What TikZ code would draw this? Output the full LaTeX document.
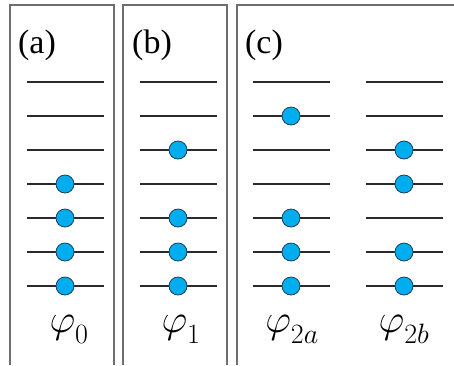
\RequirePackage{fix-cm}
\documentclass[tikz,border=0pt]{standalone}
\usepackage{fontspec}
\setmainfont{Liberation Serif}
\definecolor{frameGray}{HTML}{6E6E6E}
\definecolor{levelInk}{HTML}{2A2A2A}
\definecolor{dotCyan}{HTML}{00AEEF}
\definecolor{dotRim}{HTML}{1F3F55}
\newcommand{\statephi}[1]{$\varphi_{\raisebox{-5pt}{$\scriptstyle #1$}}$}

\begin{document}
\begin{tikzpicture}[
  x=1pt,
  y=-1pt,
  frame/.style={draw=frameGray, line width=1.3pt},
  level/.style={draw=levelInk, line width=1.1pt},
  electron/.style={
    circle,
    draw=dotRim,
    fill=dotCyan,
    line width=.8pt,
    minimum size=18pt,
    inner sep=0pt
  },
  tag/.style={font=\fontsize{34}{36}\selectfont, inner sep=0pt},
  statename/.style={font=\fontsize{40}{44}\selectfont, inner sep=0pt}
]

\path[use as bounding box] (0,0) rectangle (454,365);

% panel frames
\draw[frame] (10,365) |- (114,5) -- (114,365);
\draw[frame] (123,365) |- (227,5) -- (227,365);
\draw[frame] (237,365) |- (454,5);

\node[tag] (taga) at (37,45) {(a)};
\node[tag] (tagb) at (152,45) {(b)};
\node[tag] (tagc) at (264,45) {(c)};

% seven levels per column, numbered from the bottom
\foreach \col/\cx in {a/65, b/178, c/291, d/404} {
  \foreach \lv in {1,...,7} {
    \coordinate (\col\lv) at (\cx, 286-34*\lv+34);
    \draw[level] ([xshift=-38.5pt]\col\lv) -- ([xshift=38.5pt]\col\lv);
  }
}

% occupied levels
\foreach \lv in {1,2,3,4} \node[electron] (ea\lv) at (a\lv) {};
\foreach \lv in {1,2,3,5} \node[electron] (eb\lv) at (b\lv) {};
\foreach \lv in {1,2,3,6} \node[electron] (ec\lv) at (c\lv) {};
\foreach \lv in {1,2,4,5} \node[electron] (ed\lv) at (d\lv) {};

\node[statename] (phi0) at (69,329) {\statephi{0}};
\node[statename] (phi1) at (181,329) {\statephi{1}};
\node[statename] (phi2a) at (292,329) {\statephi{2a}};
\node[statename] (phi2b) at (404,329) {\statephi{2b}};
\end{tikzpicture}
\end{document}
